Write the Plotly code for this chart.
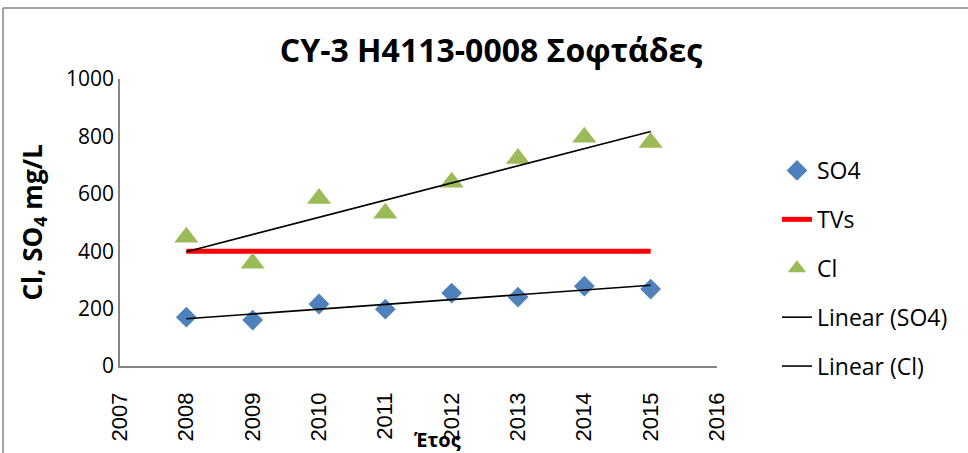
import numpy as np
import plotly.graph_objects as go

years = [2008, 2009, 2010, 2011, 2012, 2013, 2014, 2015]
so4 = [170, 160, 216, 198, 254, 240, 278, 268]
cl = [449, 358, 584, 532, 640, 723, 797, 779]
tvs = [400, 400, 400, 400, 400, 400, 400, 400]

x_ticks = [2007, 2008, 2009, 2010, 2011, 2012, 2013, 2014, 2015, 2016]
y_ticks = [0, 200, 400, 600, 800, 1000]

title_text = "CY-3 H4113-0008 Σοφτάδες"
ytitle_text = "Cl, SO<sub>4</sub> mg/L"
xtitle_text = "Έτος"

W, H = 968, 453
L, R, T, B = 120, 251, 79, 87
PW, PH = W - L - R, H - T - B

def px_x(p):
    return (p - L) / PW

def px_y(p):
    return (H - B - p) / PH

yrs = np.array(years, dtype=float)
fit_so4 = np.polyval(np.polyfit(yrs, so4, 1), yrs)
fit_cl = np.polyval(np.polyfit(yrs, cl, 1), yrs)

font_main = "Open Sans"

fig = go.Figure()
fig.add_trace(go.Scatter(x=years, y=so4, mode="markers", name="SO4", legendgroup="a",
                         marker=dict(symbol="diamond", size=16, color="#4F81BD")))
fig.add_trace(go.Scatter(x=years, y=tvs, mode="lines", name="TVs", legendgroup="b",
                         line=dict(color="#FF0000", width=5)))
fig.add_trace(go.Scatter(x=years, y=cl, mode="markers", name="Cl", legendgroup="c",
                         marker=dict(symbol="triangle-up", size=21, color="#9BBB59")))
fig.add_trace(go.Scatter(x=years, y=fit_so4, mode="lines", name="Linear (SO4)", legendgroup="d",
                         line=dict(color="black", width=1.6)))
fig.add_trace(go.Scatter(x=years, y=fit_cl, mode="lines", name="Linear (Cl)", legendgroup="e",
                         line=dict(color="black", width=1.6)))

fig.update_layout(
    width=W, height=H,
    margin=dict(l=L, r=R, t=T, b=B),
    paper_bgcolor="white", plot_bgcolor="white",
    title=dict(text=f"<b>{title_text}</b>", x=491 / W, xanchor="center", xref="container",
               y=1 - 51 / H, yanchor="middle", yref="container",
               font=dict(family=font_main, size=32, color="black")),
    xaxis=dict(range=[2007, 2016], tickvals=x_ticks, tickangle=-90, showgrid=False,
               zeroline=False, showline=True, linecolor="#868686", linewidth=1.5,
               ticks="", ticklabelstandoff=16, automargin=False,
               tickfont=dict(family="Liberation Sans", size=22, color="black")),
    yaxis=dict(range=[0, 1000], tickvals=y_ticks, showgrid=False, zeroline=False,
               showline=True, linecolor="#868686", linewidth=1.5, ticks="", automargin=False,
               tickfont=dict(family=font_main, size=21, color="black")),
    legend=dict(x=px_x(777), y=px_y(149), xanchor="left", yanchor="top",
                font=dict(family=font_main, size=23, color="black"),
                tracegroupgap=16, bgcolor="rgba(0,0,0,0)"),
    annotations=[
        dict(text=f"<b>{ytitle_text}</b>", textangle=-90, x=px_x(32), y=0.5,
             xref="paper", yref="paper", xanchor="center", yanchor="middle",
             showarrow=False, font=dict(family=font_main, size=26, color="black")),
        dict(text=f"<b>{xtitle_text}</b>", x=px_x(437), y=px_y(439),
             xref="paper", yref="paper", xanchor="center", yanchor="middle",
             showarrow=False, font=dict(family=font_main, size=20, color="black")),
    ],
    shapes=[
        dict(type="line", xref="paper", yref="paper", x0=px_x(3), x1=px_x(W + 5),
             y0=px_y(8), y1=px_y(8), line=dict(color="#868686", width=1.5)),
        dict(type="line", xref="paper", yref="paper", x0=px_x(3), x1=px_x(3),
             y0=px_y(8), y1=px_y(H + 5), line=dict(color="#868686", width=1.5)),
    ],
    showlegend=True,
)

fig.write_html("out.html", config={"displayModeBar": False},
               post_script="document.body.style.margin='0';document.body.style.overflow='hidden';")
